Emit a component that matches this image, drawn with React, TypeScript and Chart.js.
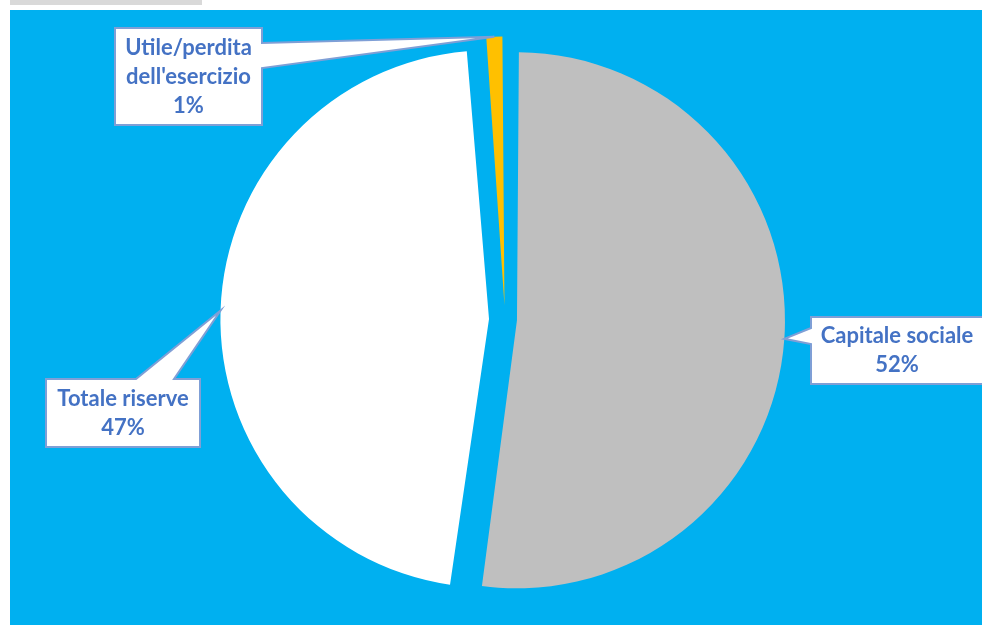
import React, { useEffect, useRef } from "react";
import { Chart, registerables } from "chart.js";

Chart.register(...registerables);

const categories = ["Capitale sociale", "Totale riserve", "Utile/perdita dell'esercizio"];
const values = [52.2, 46.6, 1.2];
const percentLabels = ["52%", "47%", "1%"];
const labelLines = [["Capitale sociale"], ["Totale riserve"], ["Utile/perdita", "dell'esercizio"]];
const sliceColors = ["#BFBFBF", "#FFFFFF", "#FFC000"];
const sliceOffsets = [48, 64, 56]; // Chart.js translates slices by offset/4

const CANVAS_LEFT = 10;
const CANVAS_TOP = 10;
const CANVAS_W = 972;
const CANVAS_H = 615;

type Box = { x: number; y: number; w: number; h: number; side: "left" | "top" | "right"; a: number; b: number };
const boxes: Box[] = [
  { x: 811, y: 317, w: 172, h: 67, side: "left", a: 11, b: 27 },
  { x: 46, y: 379, w: 154, h: 68, side: "top", a: 90, b: 128 },
  { x: 115, y: 28, w: 147, h: 97, side: "right", a: 15, b: 40 },
];

const calloutPlugin = {
  id: "callouts",
  afterDraw(chart: any) {
    const ctx = chart.ctx as CanvasRenderingContext2D;
    const meta = chart.getDatasetMeta(0);
    meta.data.forEach((arc: any, i: number) => {
      const p = arc.getProps(["x", "y", "startAngle", "endAngle", "outerRadius", "circumference"], true);
      const off = (arc.options.offset || 0) / 4;
      const mid = (p.startAngle + p.endAngle) / 2;
      const fix = 1 - Math.sin(Math.min(Math.PI, p.circumference || 0));
      const r = p.outerRadius + off * fix + off;
      const tx = p.x + Math.cos(mid) * r;
      const ty = p.y + Math.sin(mid) * r;
      const b = boxes[i];
      const x = b.x - CANVAS_LEFT;
      const y = b.y - CANVAS_TOP;
      const pts: [number, number][] = [];
      if (b.side === "left") {
        pts.push([x, y], [x + b.w, y], [x + b.w, y + b.h], [x, y + b.h], [x, y + b.b], [tx, ty], [x, y + b.a]);
      } else if (b.side === "top") {
        pts.push([x, y], [x + b.a, y], [tx, ty], [x + b.b, y], [x + b.w, y], [x + b.w, y + b.h], [x, y + b.h]);
      } else {
        pts.push([x, y], [x + b.w, y], [x + b.w, y + b.a], [tx, ty], [x + b.w, y + b.b], [x + b.w, y + b.h], [x, y + b.h]);
      }
      ctx.save();
      ctx.beginPath();
      pts.forEach(([px, py], k) => (k === 0 ? ctx.moveTo(px, py) : ctx.lineTo(px, py)));
      ctx.closePath();
      ctx.fillStyle = "#FFFFFF";
      ctx.fill();
      ctx.lineWidth = 2;
      ctx.strokeStyle = "#7F9FD6";
      ctx.lineJoin = "miter";
      ctx.stroke();
      const lines = [...labelLines[i], percentLabels[i]];
      const lh = 29;
      const cx = x + b.w / 2;
      const cy = y + b.h / 2;
      ctx.fillStyle = "#4472C4";
      ctx.font = "bold 22px Lato, 'Open Sans', sans-serif";
      ctx.textAlign = "center";
      ctx.textBaseline = "middle";
      lines.forEach((t, k) => {
        ctx.fillText(t, cx, cy + (k - (lines.length - 1) / 2) * lh);
      });
      ctx.restore();
    });
  },
};

export default function App() {
  const ref = useRef<HTMLCanvasElement | null>(null);
  useEffect(() => {
    if (!ref.current) return;
    const chart = new Chart(ref.current, {
      type: "pie",
      data: {
        labels: categories,
        datasets: [
          {
            data: values,
            backgroundColor: sliceColors,
            borderWidth: 0,
            offset: sliceOffsets,
          },
        ],
      },
      options: {
        responsive: false,
        animation: false,
        radius: 256,
        layout: { padding: { left: 18, top: 4 } },
        plugins: { legend: { display: false }, tooltip: { enabled: false } },
      } as any,
      plugins: [calloutPlugin],
    });
    return () => chart.destroy();
  }, []);
  return (
    <div style={{ position: "fixed", left: 0, top: 0, width: 984, height: 625, background: "#FFFFFF", overflow: "hidden" }}>
      <div style={{ position: "absolute", left: 10, top: 0, width: 192, height: 5, background: "#D9D9D9" }} />
      <div style={{ position: "absolute", left: CANVAS_LEFT, top: CANVAS_TOP, width: CANVAS_W, height: CANVAS_H, background: "#00B0F0" }}>
        <canvas ref={ref} width={CANVAS_W} height={CANVAS_H} style={{ display: "block", width: CANVAS_W, height: CANVAS_H }} />
      </div>
    </div>
  );
}
